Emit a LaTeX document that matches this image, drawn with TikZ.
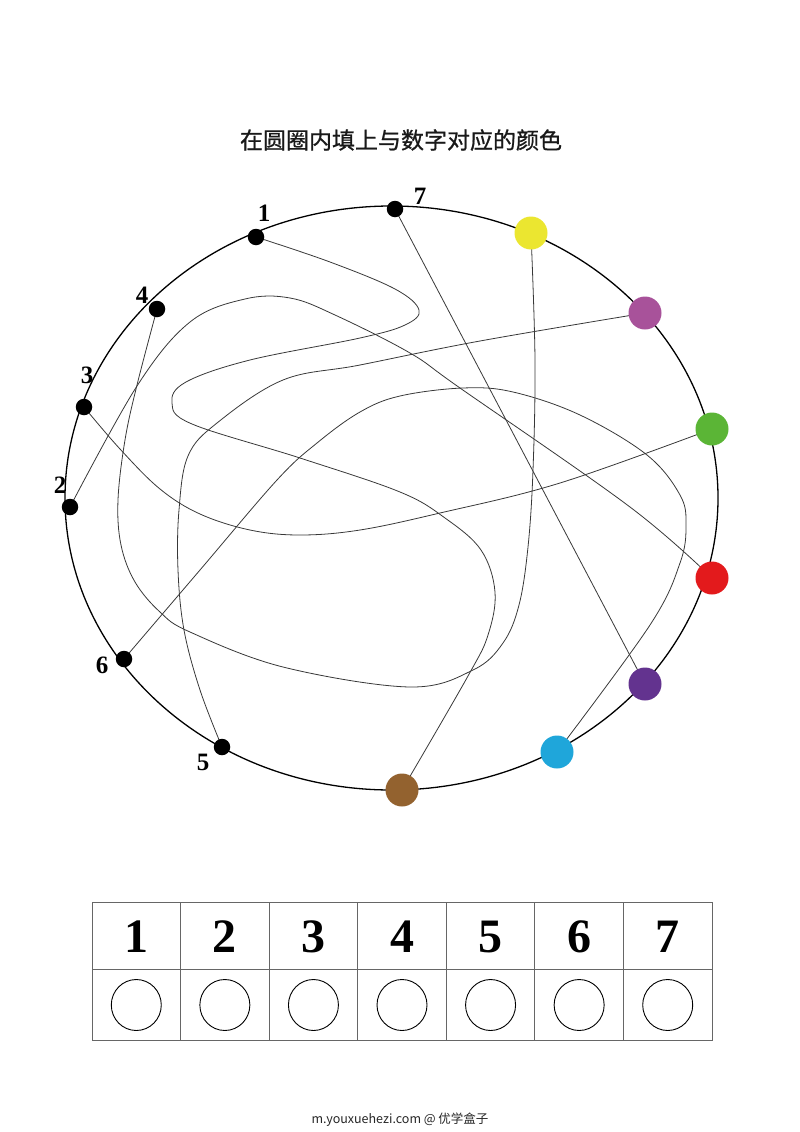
\documentclass[tikz,border=0pt]{standalone}
\usepackage{fontspec}
\setmainfont{Liberation Serif}
\newfontfamily\cjk{Noto Sans CJK SC}
\newfontfamily\cjkt{Noto Sans CJK SC}[FakeBold=0.8]
\usetikzlibrary{backgrounds}
\definecolor{cyel}{RGB}{235,230,48}
\definecolor{cmag}{RGB}{168,82,154}
\definecolor{cgrn}{RGB}{91,181,54}
\definecolor{cred}{RGB}{227,26,28}
\definecolor{cpur}{RGB}{99,51,143}
\definecolor{cblu}{RGB}{31,166,218}
\definecolor{cbrn}{RGB}{147,98,47}
\begin{document}
\begin{tikzpicture}[x=1pt,y=-1pt,
  wire/.style={draw=black!78, line width=0.8pt},
  bdot/.style={circle, fill=black, inner sep=0pt, minimum size=16.5pt},
  cdot/.style={circle, inner sep=0pt, minimum size=33pt},
  lab/.style={font=\bfseries\fontsize{25}{25}\selectfont, inner sep=0pt},
  tnum/.style={font=\bfseries\fontsize{48}{48}\selectfont, inner sep=0pt},
  grid/.style={draw=black!60, line width=0.8pt},
  ring/.style={draw=black, line width=0.9pt}]
\useasboundingbox (0,0) rectangle (800,1132);

% title
\node[font=\cjkt\fontsize{23}{23}\selectfont, text=black!90] (title) at (401,140) {在圆圈内填上与数字对应的颜色};

% big circle
\draw[line width=1.3pt] (391.5,498) ellipse [x radius=326.5, y radius=292];

% number dots
\node[bdot] (n1) at (256,237) {};
\node[bdot] (n7) at (395,209) {};
\node[bdot] (n4) at (157,309) {};
\node[bdot] (n3) at (84,407) {};
\node[bdot] (n2) at (70,507) {};
\node[bdot] (n6) at (124,659) {};
\node[bdot] (n5) at (222,747) {};

\node[lab] (l1) at (264,213) {1};
\node[lab] (l7) at (420,196) {7};
\node[lab] (l4) at (142,295) {4};
\node[lab] (l3) at (87,375) {3};
\node[lab] (l2) at (60,485) {2};
\node[lab] (l6) at (102,665) {6};
\node[lab] (l5) at (203,762) {5};

% colour dots
\node[cdot, fill=cyel] (cy) at (531,233) {};
\node[cdot, fill=cmag] (cm) at (645,313) {};
\node[cdot, fill=cgrn] (cg) at (712,429) {};
\node[cdot, fill=cred] (cr) at (712,578) {};
\node[cdot, fill=cpur] (cp) at (645,684) {};
\node[cdot, fill=cblu] (cb) at (557,752) {};
\node[cdot, fill=cbrn] (cw) at (402,790) {};

\begin{scope}[on background layer]
% 7 -> purple
\draw[wire] (n7.center) -- (cp.center);
% 1 -> brown
\draw[wire] plot[smooth, tension=0.6] coordinates {(n1.center) (330,262) (395,289) (419,310) (405,325) (360,338) (250,360) (186,382) (172,403) (192,424) (300,458) (400,492) (445,518) (481,550) (495,592) (488,635) (468,676) (cw.center)};
% 2 -> red
\draw[wire] plot[smooth, tension=0.6] coordinates {(n2.center) (137,386) (190,322) (245,299) (290,298) (335,315) (410,353) (460,388) (630,507) (cr.center)};
% 3 -> green
\draw[wire] plot[smooth, tension=0.6] coordinates {(n3.center) (120,449) (160,489) (200,514) (250,530) (300,535) (360,530) (440,513) (560,483) (cg.center)};
% 4 -> yellow
\draw[wire] plot[smooth, tension=0.6] coordinates {(n4.center) (137,385) (125,440) (118,500) (121,545) (135,582) (160,612) (190,632) (283,667) (410,687) (473,670) (503,643) (519,605) (528,547) (533,470) (535,360) (cy.center)};
% 5 -> magenta
\draw[wire] plot[smooth, tension=0.6] coordinates {(n5.center) (200,690) (184,630) (178,570) (179,510) (188,456) (217,423) (283,380) (360,365) (480,341) (cm.center)};
% 6 -> blue
\draw[wire] plot[smooth, tension=0.6] coordinates {(n6.center) (200,570) (277,480) (317,443) (360,412) (400,396) (463,388) (513,392) (580,415) (647,455) (680,495) (686,525) (680,563) (650,625) (cb.center)};
\end{scope}

% table
\draw[grid] (92,902) rectangle (712,1040);
\draw[grid] (92,969) -- (712,969);
\foreach \i in {1,...,6} {
  \draw[grid] ({92+88.571*\i},902) -- ({92+88.571*\i},1040);
}
\foreach \i in {1,...,7} {
  \node[tnum] (t\i) at ({92+88.571*(\i-0.5)},937) {\i};
  \draw[ring] ({92+88.571*(\i-0.5)},1005) ellipse [x radius=25, y radius=25.5];
}

% footer
\node[font=\cjk\fontsize{12.5}{12.5}\selectfont, text=black!85] (foot) at (400,1120) {m.youxuehezi.com @ 优学盒子};
\end{tikzpicture}
\end{document}
